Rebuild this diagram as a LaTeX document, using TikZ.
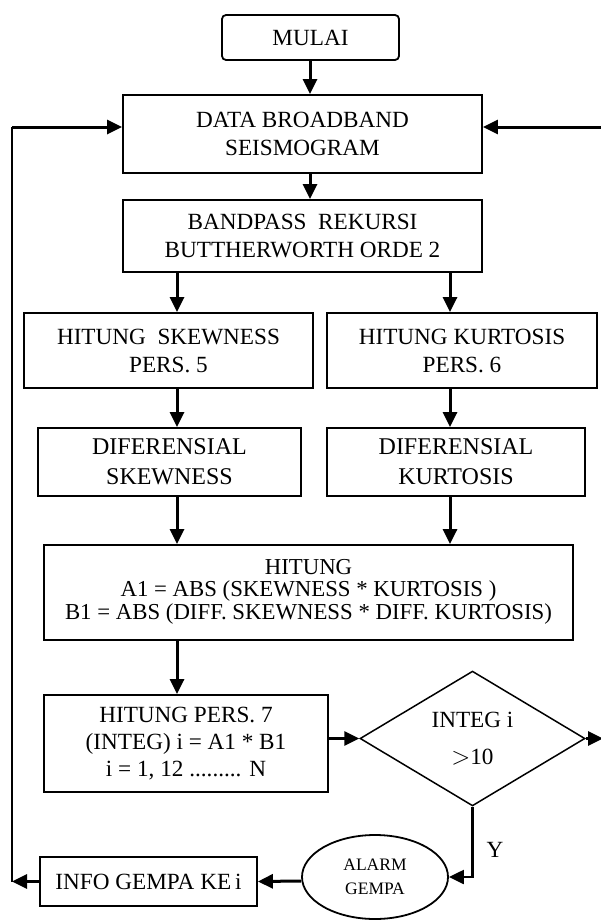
\documentclass[tikz,border=0pt]{standalone}
\usepackage{fontspec}
\setmainfont{Liberation Serif}
\usetikzlibrary{arrows.meta,shapes.geometric}
\begin{document}
\begin{tikzpicture}[x=1pt,y=-1pt,
 box/.style={draw,line width=1.8pt,rectangle,align=center,inner sep=0pt,font=\fontsize{23.2}{28}\selectfont},
 arr/.style={line width=3pt,-{Triangle[length=15pt,width=14pt]}},
 thinarr/.style={line width=2.2pt,-{Triangle[length=15pt,width=14pt]}},
]
\useasboundingbox (0,0) rectangle (601,921);
\coordinate (cL) at (177,0);
\coordinate (cR) at (450,0);
\coordinate (cM) at (310,0);
\coordinate (loopx) at (12,0);
\coordinate (redge) at (603,0);

\node[box,rounded corners=4pt,minimum width=177,minimum height=45] (mulai) at (310.5,37.5) {MULAI};
\node[box,minimum width=359,minimum height=78] (data) at (302.5,134) {DATA BROADBAND\\SEISMOGRAM};
\node[box,minimum width=359,minimum height=72] (bp) at (302.5,236) {BANDPASS\ \ REKURSI\\BUTTHERWORTH ORDE 2};
\node[box,minimum width=289,minimum height=75] (skew) at (168.5,350.5) {HITUNG\ \ SKEWNESS\\PERS. 5};
\node[box,minimum width=270,minimum height=75] (kurt) at (462,350.5) {HITUNG KURTOSIS\\PERS. 6};
\node[box,minimum width=263,minimum height=68,font=\fontsize{24}{30}\selectfont] (dskew) at (169.5,462) {DIFERENSIAL\\SKEWNESS};
\node[box,minimum width=258,minimum height=68,font=\fontsize{24}{30}\selectfont] (dkurt) at (456,462) {DIFERENSIAL\\KURTOSIS};
\node[box,minimum width=529,minimum height=95,font=\fontsize{22.8}{21}\selectfont] (hit) at (308.5,592.5) {\raisebox{-4pt}{\begin{tabular}{@{}c@{}}HITUNG\\A1 = ABS (SKEWNESS * KURTOSIS )\\B1 = ABS (DIFF. SKEWNESS * DIFF. KURTOSIS)\end{tabular}}};
\node[box,minimum width=284,minimum height=97,font=\fontsize{23.2}{27}\selectfont] (p7) at (186,743.5) {HITUNG PERS. 7\\(INTEG) i = A1 * B1\\i = 1, 12 ......... N};
\node[draw,line width=1.5pt,diamond,minimum width=225,minimum height=133,inner sep=0pt,align=center,font=\fontsize{23.2}{37}\selectfont] (dia) at (472.5,738.5) {INTEG i\\${>}$10};
\node[draw,line width=1.8pt,ellipse,minimum width=146,minimum height=84,inner sep=0pt,align=center,font=\fontsize{17.5}{24}\selectfont] (alarm) at (375,877) {ALARM\\GEMPA};
\node[box,minimum width=217,minimum height=49] (info) at (148.5,881.5) {INFO GEMPA KE\,i};
\node[font=\fontsize{23.2}{26}\selectfont] (ylab) at (495,850) {Y};

\coordinate (dL) at ([yshift=7pt]data.west);
\coordinate (dR) at ([yshift=7pt]data.east);

\draw[arr] (mulai.south -| cM) -- (data.north -| cM);
\draw[arr] (data.south -| cM) -- (bp.north -| cM);
\draw[arr] (bp.south -| cL) -- (skew.north -| cL);
\draw[arr] (bp.south -| cR) -- (kurt.north -| cR);
\draw[arr] (skew.south -| cL) -- (dskew.north -| cL);
\draw[arr] (kurt.south -| cR) -- (dkurt.north -| cR);
\draw[arr] (dskew.south -| cL) -- (hit.north -| cL);
\draw[arr] (dkurt.south -| cR) -- (hit.north -| cR);
\draw[arr] (hit.south -| cL) -- (p7.north -| cL);
\draw[arr] (p7.east |- dia.west) -- (dia.west);
\draw[arr] (dia.east) -- (dia.east -| redge);
\draw[thinarr] (dia.south) |- (alarm.east);
\draw[arr] ([yshift=-4pt]alarm.west) -- (info.east |- info.center);
\draw[arr] (info.west) -- (info.west -| loopx);
\draw[line width=1.8pt] (info.west -| loopx) -- (dL -| loopx);
\draw[arr] (dL -| loopx) -- (dL);
\draw[arr] (dR -| redge) -- (dR);
\end{tikzpicture}
\end{document}
